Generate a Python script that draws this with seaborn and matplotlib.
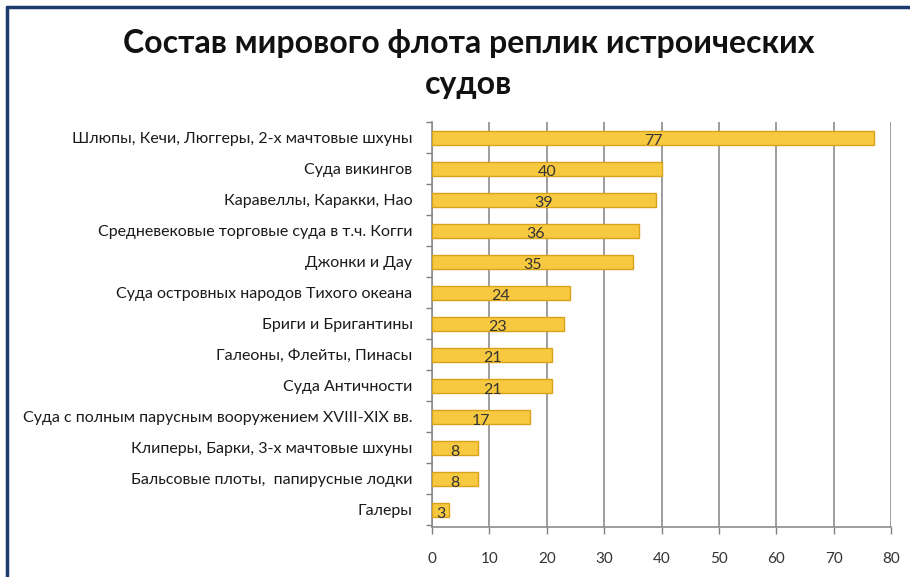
import matplotlib
matplotlib.use("Agg")
import matplotlib.pyplot as plt
import seaborn as sns
import pandas as pd
import numpy as np
from matplotlib.lines import Line2D

categories = [
    "Шлюпы, Кечи, Люггеры, 2-х мачтовые шхуны",
    "Суда викингов",
    "Каравеллы, Каракки, Нао",
    "Средневековые торговые суда в т.ч. Когги",
    "Джонки и Дау",
    "Суда островных народов Тихого океана",
    "Бриги и Бригантины",
    "Галеоны, Флейты, Пинасы",
    "Суда Античности",
    "Суда с полным парусным вооружением XVIII-XIX вв.",
    "Клиперы, Барки, 3-х мачтовые шхуны",
    "Бальсовые плоты,  папирусные лодки",
    "Галеры",
]
values = [77, 40, 39, 36, 35, 24, 23, 21, 21, 17, 8, 8, 3]
x_ticks = [0, 10, 20, 30, 40, 50, 60, 70, 80]
title = "Состав мирового флота реплик истроических\nсудов"

sns.set_theme(style="white")
plt.rcParams["font.family"] = ["Lato", "DejaVu Sans"]

df = pd.DataFrame({"cat": categories, "val": values})

fig = plt.figure(figsize=(9.1, 5.77), dpi=100)
ax = fig.add_axes([432 / 910, 1 - 527 / 577, (891 - 432) / 910, (527 - 122) / 577])

sns.barplot(data=df, x="val", y="cat", orient="h", color="#f7c940",
            edgecolor="#d9a21b", linewidth=1.0, width=0.45, saturation=1,
            ax=ax, zorder=3)

ax.set_xlim(0, 80)
ax.set_ylim(12.55, -0.45)
ax.set_xticks(x_ticks)
ax.set_xticklabels([str(t) for t in x_ticks], fontsize=11, color="#333333")
ax.tick_params(axis="x", pad=13, length=5, width=1, color="#808080", direction="out", bottom=True)
ax.tick_params(axis="y", length=0, pad=14, labelsize=11.5, labelcolor="#1a1a1a")
ax.set_yticks(range(len(categories)), minor=False)
ax.set_yticks(np.arange(-0.5, len(categories), 1), minor=True)
ax.tick_params(axis="y", which="minor", left=True, length=4, width=1, color="#808080")
ax.set_xlabel("")
ax.set_ylabel("")

ax.xaxis.grid(True, color="#8c8c8c", linewidth=1.2, zorder=0)
ax.set_axisbelow(True)
for s in ["top", "right"]:
    ax.spines[s].set_visible(False)
for s in ["left", "bottom"]:
    ax.spines[s].set_color("#8c8c8c")
    ax.spines[s].set_linewidth(1.2)

for i, v in enumerate(values):
    ax.text(v / 2, i + 0.12, str(v), ha="center", va="center", fontsize=11.5, color="#333333", zorder=5)

fig.text(0.515, 1 - 64 / 577, title, ha="center", va="center", fontsize=23,
         fontweight="bold", color="#111111", linespacing=1.5)

# Frame border (dark blue) on top and left
fig.add_artist(Line2D([7 / 910, 7 / 910], [0, 1 - 7 / 577], transform=fig.transFigure,
                      color="#1c3a6e", linewidth=2.5))
fig.add_artist(Line2D([7 / 910, 1], [1 - 7 / 577, 1 - 7 / 577], transform=fig.transFigure,
                      color="#1c3a6e", linewidth=2.5))

fig.savefig("out.png", dpi=100)
